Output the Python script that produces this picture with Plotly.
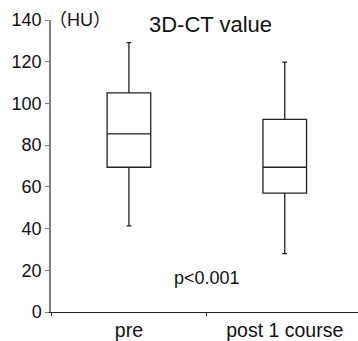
import plotly.graph_objects as go

categories = ["pre", "post 1 course"]
lower_whisker = [41.3, 28.0]
q1 = [69.4, 57.0]
median = [85.4, 69.4]
q3 = [105.1, 92.4]
upper_whisker = [129.2, 119.8]
y_ticks = [0, 20, 40, 60, 80, 100, 120, 140]

FONT = "Liberation Sans, Arial, Noto Sans CJK JP, sans-serif"

fig = go.Figure()
fig.add_trace(go.Box(
    x=categories,
    q1=q1, median=median, q3=q3,
    lowerfence=lower_whisker, upperfence=upper_whisker,
    fillcolor="white",
    line=dict(color="#222222", width=1.3),
    whiskerwidth=0.11,
    boxpoints=False,
    showlegend=False,
))

fig.update_layout(
    width=358, height=341,
    margin=dict(l=51, r=0, t=20, b=27),
    paper_bgcolor="white", plot_bgcolor="white",
    boxgap=0.6,
    font=dict(family=FONT, size=18, color="#111111"),
    xaxis=dict(
        type="category", range=[-0.5, 1.47],
        showline=True, linecolor="#222222", linewidth=1.2,
        ticks="outside", tickson="boundaries", ticklen=3, tickcolor="#222222",
        showgrid=False, zeroline=False,
        tickfont=dict(size=19.5),
    ),
    yaxis=dict(
        range=[0, 140], tickvals=y_ticks,
        showline=True, linecolor="#808080", linewidth=1.5,
        ticks="outside", ticklen=4, tickcolor="#808080",
        showgrid=False, zeroline=False,
        tickfont=dict(size=18),
    ),
    annotations=[
        dict(text="3D-CT value", xref="paper", yref="paper", x=(210.8 - 51) / 307, y=1.0,
             yanchor="middle", xanchor="center", yshift=-4, showarrow=False, font=dict(size=22)),
        dict(text="（HU）", xref="paper", yref="paper", x=0.0, y=1.0, xanchor="left",
             yanchor="middle", xshift=-4, showarrow=False, font=dict(size=18)),
        dict(text="p<0.001", xref="x", yref="y", x=0.5, y=16.2, xanchor="center",
             yanchor="middle", showarrow=False, font=dict(size=18)),
    ],
)

fig.write_html("out.html", config={"displayModeBar": False},
               post_script="document.body.style.margin='0';document.body.style.overflow='hidden';")
